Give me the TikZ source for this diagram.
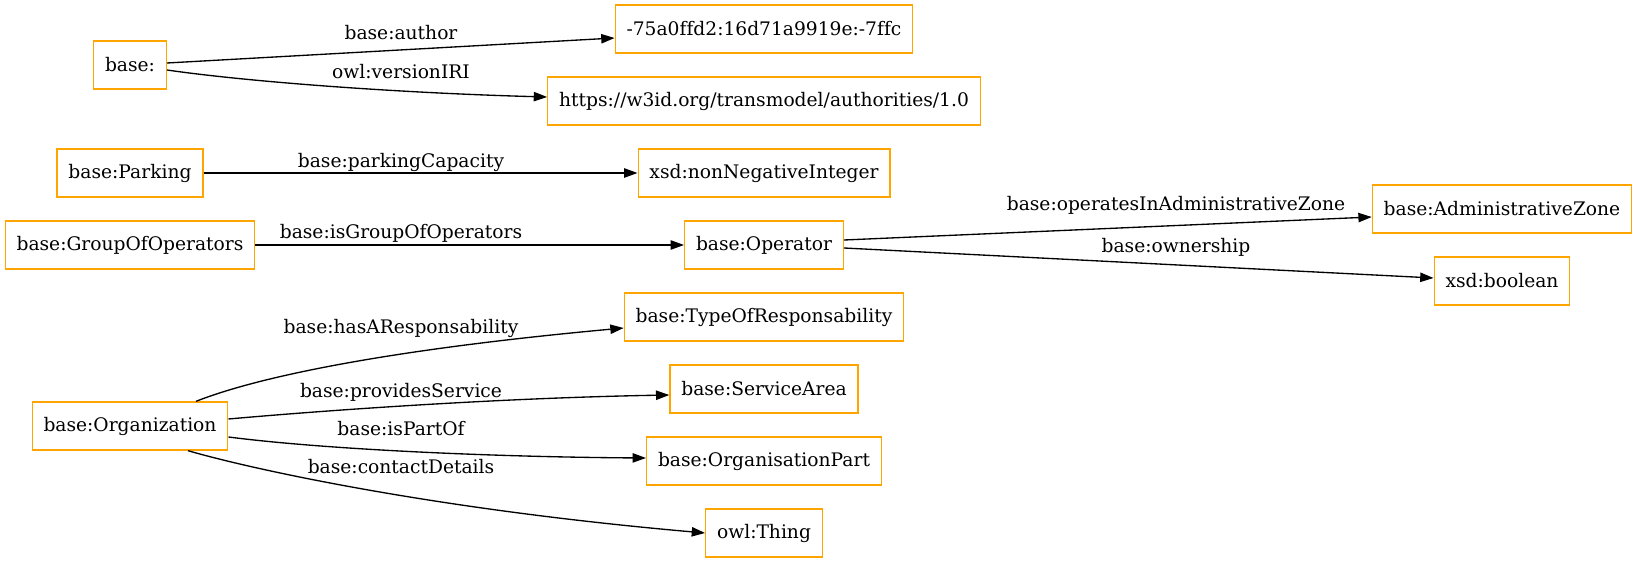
\documentclass[tikz,border=0pt]{standalone}
\usepackage{fontspec}
\setmainfont{DejaVu Serif}[Ligatures={TeX,NoCommon}]
\usetikzlibrary{arrows.meta}
\definecolor{gvorange}{HTML}{FFA500}

\begin{document}
\begin{tikzpicture}[x=0.75pt, y=-0.75pt, node distance=54pt,
  every node/.style={font=\fontsize{14pt}{16pt}\selectfont},
  term/.style={draw=gvorange, line width=1pt, minimum height=36pt, minimum width=54pt, inner xsep=8.5pt},
  rel/.style={-{Triangle[length=10pt,width=7pt]}, line width=1pt},
  lbl/.style={inner sep=0pt}]
\useasboundingbox (0,0) rectangle (1639,563);

\node (author) [term] at (764,29) {-75a0ffd2:16d71a9919e:-7ffc};
\node (iri) [below of=author, term] {https://w3id.org/transmodel/authorities/1.0};
\node (nonneg) [below of=iri, term] {xsd:nonNegativeInteger};
\node (operator) [below of=nonneg, term] {base:Operator};
\node (typeresp) [below of=operator, term] {base:TypeOfResponsability};
\node (service) [below of=typeresp, term] {base:ServiceArea};
\node (orgpart) [below of=service, term] {base:OrganisationPart};
\node (thing) [below of=orgpart, term] {owl:Thing};

\node (base) [term] at (130,65) {base:};
\node (parking) [term] at (130,173) {base:Parking};
\node (group) [term] at (130,245) {base:GroupOfOperators};
\node (org) [term] at (130,426) {base:Organization};
\node (zone) [term] at (1502,209) {base:AdministrativeZone};
\node (boolean) [term] at (1502,281) {xsd:boolean};

\draw[rel] ([yshift=1.5pt]base.east) -- ([yshift=-6.75pt]author.west) node[lbl] at (401,33) {base:author};
\draw[rel] ([yshift=-3.75pt]base.east) .. controls (250,82) and (400,93) .. ([yshift=3pt]iri.west) node[lbl] at (401,72) {owl:versionIRI};
\draw[rel] (parking) -- (nonneg) node[lbl] at (401,162) {base:parkingCapacity};
\draw[rel] (group) -- (operator) node[lbl] at (401,233) {base:isGroupOfOperators};
\draw[rel] ([yshift=3.75pt]operator.east) -- ([yshift=-6pt]zone.west) node[lbl] at (1176,205) {base:operatesInAdministrativeZone};
\draw[rel] ([yshift=-2.25pt]operator.east) -- ([yshift=2.25pt]boolean.west) node[lbl] at (1176,247) {base:ownership};
\draw[rel] ([xshift=49.5pt]org.north) .. controls (230,388) and (330,355) .. ([yshift=-8.25pt]typeresp.west) node[lbl] at (401,328) {base:hasAResponsability};
\draw[rel] ([yshift=5.25pt]org.east) .. controls (330,410) and (500,398) .. ([yshift=-4.5pt]service.west) node[lbl] at (401,392) {base:providesService};
\draw[rel] ([yshift=-8.25pt]org.east) .. controls (330,450) and (500,457) .. ([yshift=2.25pt]orgpart.west) node[lbl] at (401,429) {base:isPartOf};
\draw[rel] ([xshift=43.5pt]org.south) .. controls (240,466) and (420,508) .. (thing.west) node[lbl] at (401,467) {base:contactDetails};
\end{tikzpicture}
\end{document}
